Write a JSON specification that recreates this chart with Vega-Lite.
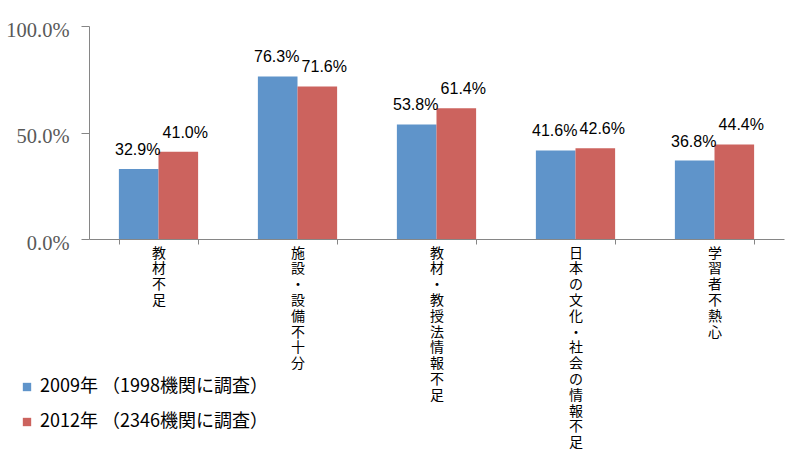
{
  "$schema": "https://vega.github.io/schema/vega-lite/v6.json",
  "autosize": "none",
  "width": 695,
  "height": 213,
  "padding": {"left": 89, "top": 26, "right": 16, "bottom": 223},
  "background": "white",
  "config": {"view": {"stroke": null}},
  "data": {"values": [
    {"cat": "教材不足", "year": "2009年 （1998機関に調査）", "v": 0.329},
    {"cat": "教材不足", "year": "2012年 （2346機関に調査）", "v": 0.410},
    {"cat": "施設・設備不十分", "year": "2009年 （1998機関に調査）", "v": 0.763},
    {"cat": "施設・設備不十分", "year": "2012年 （2346機関に調査）", "v": 0.716},
    {"cat": "教材・教授法情報不足", "year": "2009年 （1998機関に調査）", "v": 0.538},
    {"cat": "教材・教授法情報不足", "year": "2012年 （2346機関に調査）", "v": 0.614},
    {"cat": "日本の文化・社会の情報不足", "year": "2009年 （1998機関に調査）", "v": 0.416},
    {"cat": "日本の文化・社会の情報不足", "year": "2012年 （2346機関に調査）", "v": 0.426},
    {"cat": "学習者不熱心", "year": "2009年 （1998機関に調査）", "v": 0.368},
    {"cat": "学習者不熱心", "year": "2012年 （2346機関に調査）", "v": 0.444}
  ]},
  "encoding": {
    "x": {"field": "cat", "type": "nominal", "sort": null,
      "scale": {"paddingInner": 0.43, "paddingOuter": 0.215},
      "axis": {"title": null, "labelAngle": 0, "labelExpr": "split(datum.label, '')",
        "labelFont": "Noto Sans CJK JP", "labelFontSize": 14, "labelLineHeight": 15.8,
        "labelColor": "#000000", "labelBaseline": "top", "labelPadding": 2,
        "tickBand": "extent", "tickSize": 5, "tickColor": "#868686", "domainColor": "#868686"}},
    "xOffset": {"field": "year", "type": "nominal", "sort": null},
    "y": {"field": "v", "type": "quantitative",
      "scale": {"domain": [0, 1]},
      "axis": {"title": null, "values": [0, 0.5, 1], "format": ".1%", "grid": false,
        "labelFont": "Liberation Serif", "labelFontSize": 20.5, "labelColor": "#595959",
        "labelOffset": 4, "labelPadding": 12, "tickSize": 8, "tickColor": "#868686", "domainColor": "#868686"}}
  },
  "layer": [
    {"mark": {"type": "bar"},
      "encoding": {"color": {"field": "year", "type": "nominal", "sort": null,
        "scale": {"range": ["#5F94CA", "#CC635E"]},
        "legend": {"title": null, "orient": "none", "legendX": -71, "legendY": 352,
          "symbolType": "square", "symbolSize": 70, "symbolStrokeWidth": 0, "symbolOpacity": 1,
          "labelFont": "Noto Sans CJK JP", "labelFontSize": 18, "labelColor": "#000000",
          "labelOffset": 4, "labelLimit": 0, "rowPadding": 17}}}},
    {"transform": [{"filter": "datum.year == '2009年 （1998機関に調査）'"}],
      "mark": {"type": "text", "baseline": "alphabetic", "dy": -14, "dx": -1, "font": "Liberation Sans", "fontSize": 16, "color": "#000000"},
      "encoding": {"text": {"field": "v", "type": "quantitative", "format": ".1%"}}},
    {"transform": [{"filter": "datum.year == '2012年 （2346機関に調査）'"}],
      "mark": {"type": "text", "baseline": "alphabetic", "dy": -14, "dx": 7, "font": "Liberation Sans", "fontSize": 16, "color": "#000000"},
      "encoding": {"text": {"field": "v", "type": "quantitative", "format": ".1%"}}}
  ]
}
